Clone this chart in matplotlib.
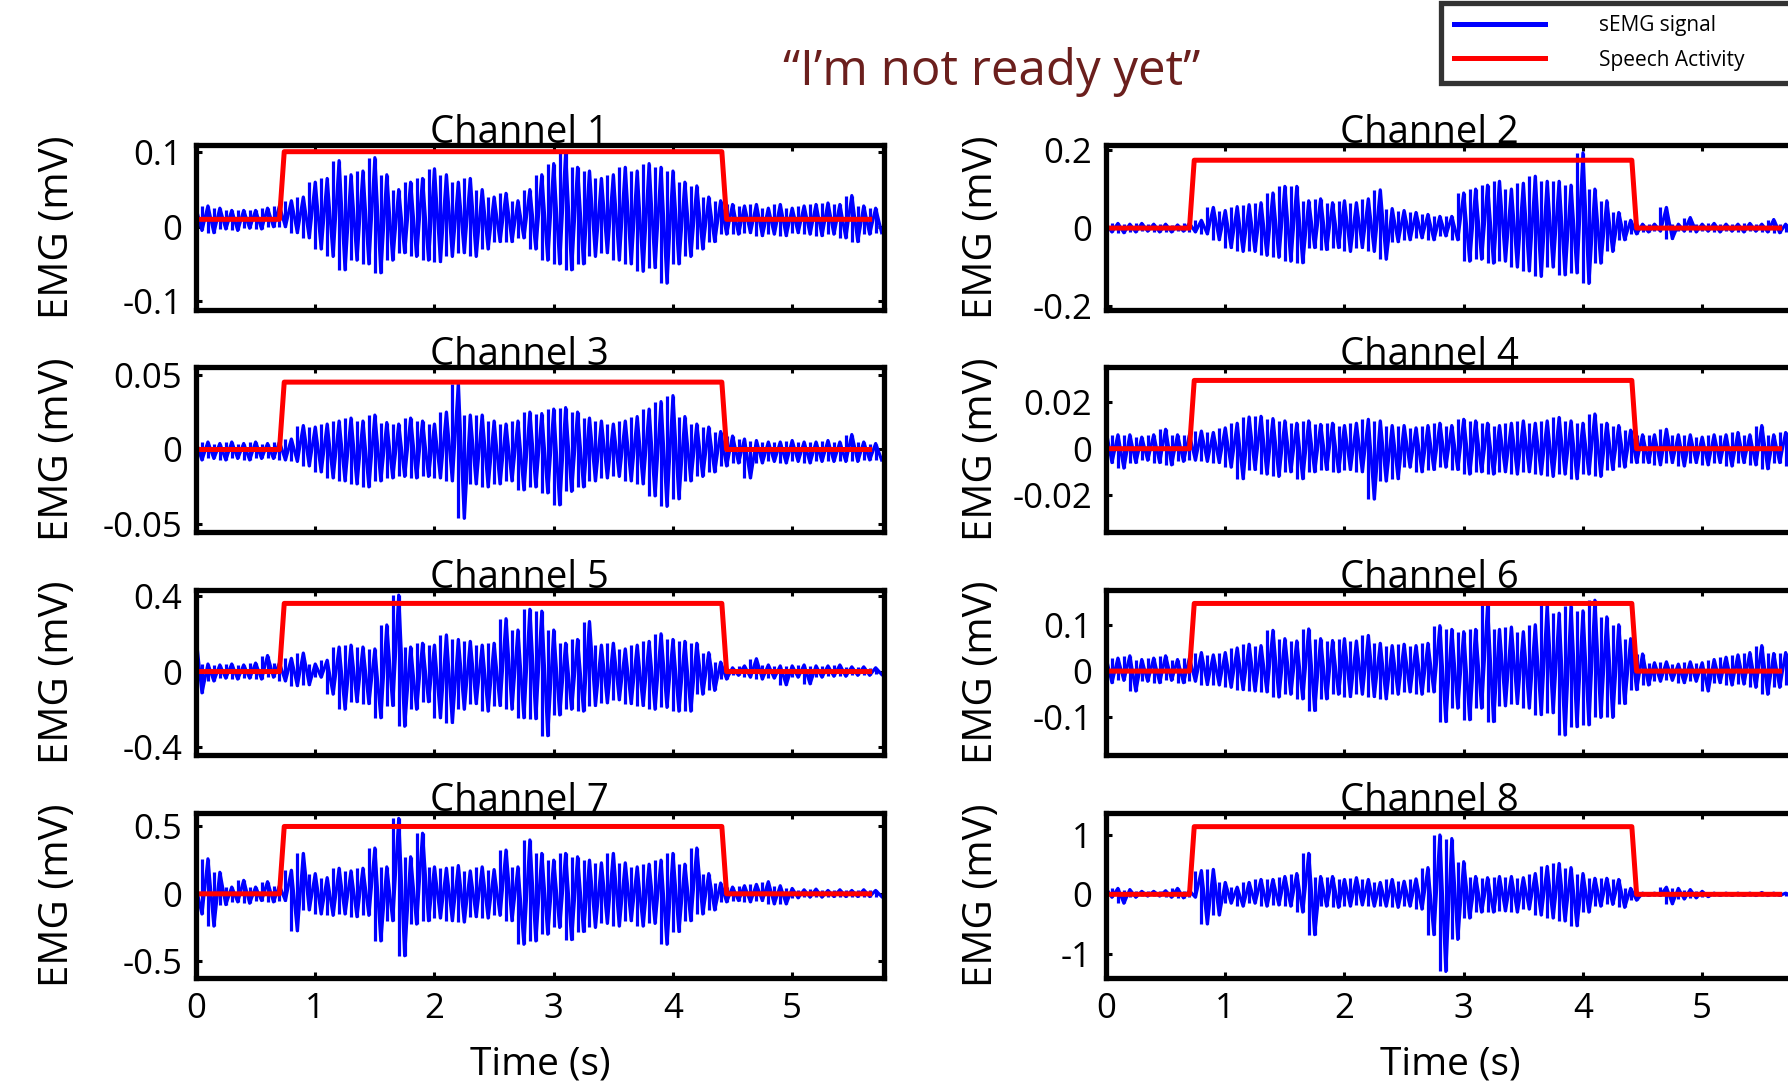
import matplotlib
matplotlib.use("Agg")
import matplotlib.pyplot as plt
import numpy as np
from matplotlib.lines import Line2D

plt.rcParams['font.family'] = ['Open Sans', 'DejaVu Sans']

# envelope of each sEMG channel, read every 0.1 s (hi at t, lo at t + 0.05)
t_env = np.round(np.arange(0, 5.75, 0.1), 2)

ch1_hi = [0.025, 0.028, 0.025, 0.022, 0.022, 0.022, 0.025, 0.028, 0.035, 0.040,
          0.060, 0.065, 0.089, 0.070, 0.075, 0.093, 0.070, 0.050, 0.060, 0.065,
          0.078, 0.070, 0.060, 0.065, 0.050, 0.040, 0.045, 0.035, 0.050, 0.070,
          0.085, 0.100, 0.080, 0.075, 0.065, 0.070, 0.080, 0.075, 0.085, 0.080,
          0.075, 0.060, 0.055, 0.040, 0.035, 0.030, 0.028, 0.030, 0.025, 0.030,
          0.025, 0.028, 0.030, 0.032, 0.030, 0.042, 0.028, 0.025]
ch1_lo = [-0.005, -0.008, -0.003, -0.005, -0.002, -0.003, 0.000, 0.000, -0.008, -0.015,
          -0.030, -0.040, -0.058, -0.045, -0.050, -0.062, -0.045, -0.035, -0.040, -0.045,
          -0.047, -0.040, -0.035, -0.040, -0.030, -0.020, -0.020, -0.015, -0.030, -0.045,
          -0.050, -0.058, -0.050, -0.040, -0.035, -0.045, -0.050, -0.060, -0.055, -0.076,
          -0.050, -0.040, -0.030, -0.020, -0.010, -0.010, -0.008, -0.012, -0.010, -0.012,
          -0.008, -0.010, -0.012, -0.010, -0.015, -0.020, -0.010, -0.008]

ch2_hi = [0.010, 0.012, 0.010, 0.012, 0.010, 0.010, 0.008, 0.012, 0.020, 0.053,
          0.045, 0.055, 0.060, 0.065, 0.090, 0.107, 0.107, 0.070, 0.075, 0.065,
          0.070, 0.065, 0.075, 0.098, 0.050, 0.045, 0.040, 0.035, 0.030, 0.030,
          0.090, 0.100, 0.110, 0.120, 0.100, 0.115, 0.133, 0.120, 0.120, 0.110,
          0.193, 0.100, 0.070, 0.040, 0.020, 0.010, 0.010, 0.053, 0.010, 0.027,
          0.010, 0.012, 0.010, 0.010, 0.012, 0.010, 0.022, 0.010]
ch2_lo = [-0.010, -0.012, -0.010, -0.008, -0.010, -0.010, -0.008, -0.010, -0.015, -0.030,
          -0.050, -0.060, -0.060, -0.070, -0.075, -0.085, -0.089, -0.050, -0.055, -0.050,
          -0.060, -0.050, -0.060, -0.080, -0.035, -0.030, -0.025, -0.030, -0.020, -0.030,
          -0.085, -0.080, -0.090, -0.085, -0.100, -0.110, -0.124, -0.100, -0.120, -0.115,
          -0.142, -0.090, -0.060, -0.030, -0.015, -0.010, -0.008, -0.027, -0.008, -0.010,
          -0.008, -0.010, -0.008, -0.010, -0.008, -0.010, -0.012, -0.010]

ch3_hi = [0.005, 0.005, 0.004, 0.005, 0.004, 0.005, 0.004, 0.005, 0.007, 0.016,
          0.015, 0.017, 0.019, 0.021, 0.019, 0.023, 0.018, 0.017, 0.021, 0.019,
          0.017, 0.025, 0.044, 0.023, 0.023, 0.019, 0.017, 0.019, 0.025, 0.024,
          0.027, 0.028, 0.025, 0.021, 0.019, 0.017, 0.019, 0.022, 0.027, 0.032,
          0.036, 0.022, 0.017, 0.015, 0.012, 0.009, 0.007, 0.006, 0.005, 0.005,
          0.006, 0.005, 0.005, 0.006, 0.005, 0.010, 0.005, 0.004]
ch3_lo = [-0.007, -0.006, -0.007, -0.006, -0.007, -0.006, -0.006, -0.007, -0.008, -0.011,
          -0.015, -0.019, -0.021, -0.023, -0.025, -0.021, -0.019, -0.018, -0.019, -0.018,
          -0.019, -0.021, -0.046, -0.023, -0.025, -0.023, -0.021, -0.027, -0.025, -0.029,
          -0.037, -0.028, -0.025, -0.021, -0.019, -0.018, -0.021, -0.023, -0.031, -0.038,
          -0.033, -0.021, -0.018, -0.015, -0.011, -0.009, -0.019, -0.009, -0.008, -0.009,
          -0.008, -0.009, -0.008, -0.008, -0.008, -0.008, -0.007, -0.007]

ch4_hi = [0.008, 0.006, 0.006, 0.005, 0.006, 0.0084, 0.006, 0.006, 0.0076, 0.007,
          0.009, 0.011, 0.0137, 0.014, 0.013, 0.012, 0.011, 0.012, 0.0105, 0.011,
          0.010, 0.011, 0.0127, 0.012, 0.010, 0.010, 0.009, 0.010, 0.011, 0.010,
          0.0127, 0.012, 0.011, 0.010, 0.011, 0.012, 0.011, 0.012, 0.0135, 0.012,
          0.011, 0.015, 0.011, 0.010, 0.008, 0.006, 0.006, 0.0084, 0.006, 0.006,
          0.005, 0.006, 0.006, 0.007, 0.006, 0.010, 0.006, 0.007]
ch4_lo = [-0.006, -0.0084, -0.006, -0.005, -0.006, -0.007, -0.0055, -0.005, -0.0055, -0.006,
          -0.008, -0.013, -0.009, -0.011, -0.012, -0.010, -0.013, -0.010, -0.009, -0.010,
          -0.009, -0.010, -0.0218, -0.014, -0.013, -0.008, -0.010, -0.009, -0.008, -0.009,
          -0.011, -0.010, -0.011, -0.010, -0.011, -0.010, -0.011, -0.012, -0.011, -0.013,
          -0.011, -0.012, -0.009, -0.008, -0.006, -0.006, -0.007, -0.006, -0.0075, -0.006,
          -0.007, -0.006, -0.0075, -0.006, -0.007, -0.0087, -0.006, -0.0075]

ch5_hi = [0.185, 0.040, 0.035, 0.040, 0.035, 0.045, 0.085, 0.045, 0.070, 0.098,
          0.040, 0.060, 0.130, 0.140, 0.130, 0.120, 0.247, 0.405, 0.130, 0.150,
          0.140, 0.194, 0.170, 0.160, 0.140, 0.150, 0.280, 0.220, 0.330, 0.320,
          0.220, 0.150, 0.170, 0.265, 0.140, 0.150, 0.120, 0.140, 0.160, 0.200,
          0.170, 0.160, 0.150, 0.100, 0.050, 0.020, 0.030, 0.068, 0.035, 0.030,
          0.030, 0.035, 0.030, 0.030, 0.035, 0.025, 0.025, 0.020]
ch5_lo = [-0.113, -0.050, -0.035, -0.040, -0.035, -0.040, -0.030, -0.050, -0.075, -0.070,
          -0.030, -0.120, -0.200, -0.160, -0.170, -0.245, -0.180, -0.290, -0.200, -0.160,
          -0.245, -0.270, -0.200, -0.170, -0.210, -0.180, -0.200, -0.245, -0.250, -0.340,
          -0.230, -0.200, -0.210, -0.180, -0.166, -0.150, -0.170, -0.180, -0.200, -0.190,
          -0.210, -0.210, -0.120, -0.100, -0.040, -0.020, -0.030, -0.040, -0.035, -0.070,
          -0.030, -0.065, -0.030, -0.025, -0.025, -0.020, -0.020, -0.015]

ch6_hi = [0.030, 0.028, 0.033, 0.025, 0.028, 0.033, 0.025, 0.028, 0.040, 0.035,
          0.040, 0.050, 0.058, 0.055, 0.088, 0.070, 0.065, 0.091, 0.070, 0.066,
          0.070, 0.065, 0.077, 0.060, 0.055, 0.058, 0.055, 0.060, 0.098, 0.090,
          0.085, 0.090, 0.142, 0.090, 0.095, 0.085, 0.100, 0.142, 0.125, 0.140,
          0.130, 0.153, 0.117, 0.100, 0.070, 0.037, 0.018, 0.020, 0.015, 0.020,
          0.018, 0.025, 0.030, 0.035, 0.040, 0.055, 0.038, 0.040]
ch6_lo = [-0.025, -0.020, -0.043, -0.022, -0.025, -0.020, -0.025, -0.022, -0.029, -0.030,
          -0.035, -0.040, -0.043, -0.045, -0.056, -0.050, -0.060, -0.085, -0.060, -0.050,
          -0.055, -0.050, -0.055, -0.060, -0.050, -0.045, -0.050, -0.045, -0.109, -0.080,
          -0.105, -0.080, -0.109, -0.075, -0.070, -0.080, -0.094, -0.090, -0.138, -0.120,
          -0.116, -0.100, -0.100, -0.070, -0.040, -0.030, -0.022, -0.020, -0.025, -0.022,
          -0.043, -0.025, -0.030, -0.028, -0.035, -0.050, -0.035, -0.030]

ch7_hi = [0.050, 0.260, 0.160, 0.050, 0.100, 0.050, 0.090, 0.060, 0.175, 0.300,
          0.150, 0.120, 0.190, 0.170, 0.190, 0.340, 0.200, 0.560, 0.275, 0.450,
          0.200, 0.190, 0.210, 0.170, 0.200, 0.180, 0.325, 0.200, 0.400, 0.300,
          0.250, 0.300, 0.275, 0.250, 0.230, 0.300, 0.230, 0.200, 0.220, 0.250,
          0.300, 0.220, 0.340, 0.150, 0.080, 0.050, 0.060, 0.070, 0.090, 0.060,
          0.040, 0.030, 0.035, 0.025, 0.030, 0.025, 0.030, 0.025]
ch7_lo = [-0.150, -0.240, -0.080, -0.060, -0.070, -0.050, -0.060, -0.050, -0.275, -0.120,
          -0.150, -0.160, -0.150, -0.170, -0.160, -0.350, -0.200, -0.460, -0.225, -0.200,
          -0.180, -0.200, -0.210, -0.170, -0.180, -0.160, -0.200, -0.375, -0.350, -0.300,
          -0.250, -0.340, -0.280, -0.250, -0.220, -0.240, -0.200, -0.240, -0.220, -0.375,
          -0.280, -0.200, -0.150, -0.120, -0.060, -0.050, -0.060, -0.050, -0.075, -0.075,
          -0.030, -0.025, -0.025, -0.020, -0.020, -0.020, -0.020, -0.020]

ch8_hi = [0.10, 0.10, 0.08, 0.05, 0.05, 0.06, 0.10, 0.06, 0.40, 0.42,
          0.20, 0.12, 0.20, 0.25, 0.25, 0.30, 0.35, 0.69, 0.30, 0.30,
          0.25, 0.28, 0.25, 0.20, 0.25, 0.22, 0.26, 0.45, 1.00, 0.94,
          0.55, 0.30, 0.28, 0.30, 0.30, 0.28, 0.35, 0.47, 0.52, 0.45,
          0.35, 0.27, 0.27, 0.25, 0.10, 0.02, 0.02, 0.12, 0.10, 0.08,
          0.05, 0.02, 0.02, 0.02, 0.02, 0.03, 0.02, 0.02]
ch8_lo = [-0.05, -0.15, -0.05, -0.03, -0.03, -0.05, -0.06, -0.05, -0.50, -0.35,
          -0.15, -0.20, -0.15, -0.20, -0.18, -0.20, -0.30, -0.68, -0.20, -0.22,
          -0.20, -0.18, -0.20, -0.20, -0.22, -0.20, -0.25, -0.68, -1.30, -0.76,
          -0.40, -0.30, -0.30, -0.28, -0.30, -0.25, -0.35, -0.40, -0.45, -0.53,
          -0.30, -0.20, -0.17, -0.22, -0.10, -0.02, -0.02, -0.16, -0.08, -0.06,
          -0.04, -0.02, -0.02, -0.02, -0.02, -0.02, -0.02, -0.02]

# speech activity trace: off / on / off
t_act = [0, 0.70, 0.74, 4.41, 4.45, 5.65]
act_low = [0.01, 0, 0, 0, 0, 0, 0, 0]
act_high = [0.101, 0.174, 0.045, 0.0295, 0.361, 0.146, 0.50, 1.14]

his = [ch1_hi, ch2_hi, ch3_hi, ch4_hi, ch5_hi, ch6_hi, ch7_hi, ch8_hi]
los = [ch1_lo, ch2_lo, ch3_lo, ch4_lo, ch5_lo, ch6_lo, ch7_lo, ch8_lo]

ylims = [(-0.112, 0.110), (-0.21, 0.213), (-0.0551, 0.0551), (-0.036, 0.0353),
         (-0.442, 0.432), (-0.181, 0.175), (-0.625, 0.60), (-1.41, 1.37)]
yticks = [[-0.1, 0, 0.1], [-0.2, 0, 0.2], [-0.05, 0, 0.05], [-0.02, 0, 0.02],
          [-0.4, 0, 0.4], [-0.1, 0, 0.1], [-0.5, 0, 0.5], [-1, 0, 1]]
ytick_labels = [['-0.1', '0', '0.1'], ['-0.2', '0', '0.2'], ['-0.05', '0', '0.05'],
                ['-0.02', '0', '0.02'], ['-0.4', '0', '0.4'], ['-0.1', '0', '0.1'],
                ['-0.5', '0', '0.5'], ['-1', '0', '1']]
xticks = [0, 1, 2, 3, 4, 5]

W, H = 1788, 1085
fig = plt.figure(figsize=(W / 100, H / 100), dpi=100)

col_x = [196, 1106]
ax_w = 688
row_y = [145, 367, 590, 813]
ax_h = 165

for i in range(8):
    r, c = divmod(i, 2)
    ax = fig.add_axes([col_x[c] / W, 1 - (row_y[r] + ax_h) / H, ax_w / W, ax_h / H])

    hi = np.array(his[i])
    lo = np.array(los[i])
    tx = np.column_stack([t_env, t_env + 0.05]).ravel()
    ty = np.column_stack([hi, lo]).ravel()
    ax.plot(tx, ty, color='blue', lw=2.3)
    ax.vlines(t_env, lo, hi, color='blue', lw=2.3)
    ax.vlines(t_env[:-1] + 0.05, lo[:-1], hi[1:], color='blue', lw=2.3)

    act = [act_low[i], act_low[i], act_high[i], act_high[i], act_low[i], act_low[i]]
    ax.plot(t_act, act, color='red', lw=3.6, solid_joinstyle='round')

    ax.set_xlim(0, 5.77)
    ax.set_ylim(*ylims[i])
    ax.set_yticks(yticks[i])
    ax.set_yticklabels(ytick_labels[i])
    ax.set_xticks(xticks)
    if r == 3:
        ax.set_xticklabels([str(v) for v in xticks])
        ax.set_xlabel('Time (s)', fontsize=28, labelpad=14)
    else:
        ax.set_xticklabels([])
    ax.tick_params(direction='in', length=4, width=2.2, top=True, right=True,
                   labelsize=25, pad=10)
    for s in ax.spines.values():
        s.set_linewidth(3.8)
    ax.text(0.47, 1.012, 'Channel %d' % (i + 1), fontsize=27.5, ha='center',
            va='baseline', transform=ax.transAxes)
    ax.set_ylabel('EMG (mV)', fontsize=29)
    ax.yaxis.set_label_coords(-0.171 if c == 0 else -0.151, 0.5)

fig.text(992 / W, 1 - 72 / H, '\u201cI\u2019m not ready yet\u201d', fontsize=35.5,
         color='#6B1F1D', ha='center', va='center')

handles = [Line2D([], [], color='blue', lw=3.6), Line2D([], [], color='red', lw=3.6)]
leg = fig.legend(handles, ['sEMG signal', 'Speech Activity'], loc='upper left',
                 bbox_to_anchor=(1441 / W, 1 - 3 / H, 0.25, 0.0), mode='expand',
                 fontsize=15, handlelength=4.4, handletextpad=2.6, borderpad=0.6,
                 labelspacing=0.63, fancybox=False, borderaxespad=0)
leg.get_frame().set_edgecolor('black')
leg.get_frame().set_linewidth(3.8)

fig.savefig('out.png', dpi=100)
